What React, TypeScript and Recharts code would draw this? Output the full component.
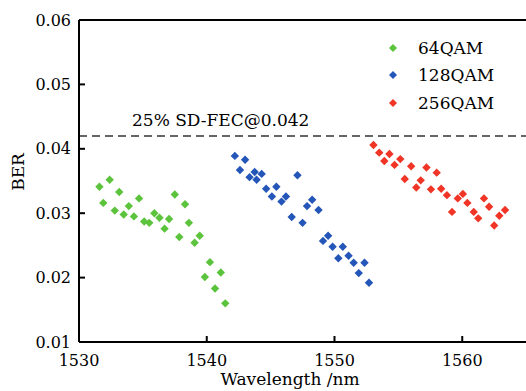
import React from 'react';
import { ScatterChart, Scatter, XAxis, YAxis, ReferenceLine } from 'recharts';

const xTicks = [1530, 1540, 1550, 1560];
const yTicks = [0.01, 0.02, 0.03, 0.04, 0.05, 0.06];
const fecLevel = 0.042;
const fecLabel = '25% SD-FEC@0.042';
const seriesNames = ['64QAM', '128QAM', '256QAM'];
const seriesColors = ['#5cc33c', '#2455b8', '#f03526'];

const qam64X = [1531.6, 1532.4, 1531.9, 1533.15, 1532.8, 1533.9, 1533.5, 1534.7, 1534.3, 1535.1, 1535.5, 1535.9, 1536.3, 1536.7, 1537.05, 1537.5, 1538.3, 1537.85, 1538.6, 1539.45, 1539.05, 1540.25, 1539.85, 1541.1, 1540.65, 1541.45];
const qam64Y = [0.0341, 0.0352, 0.0316, 0.0333, 0.0304, 0.0311, 0.0298, 0.0323, 0.0295, 0.0287, 0.0285, 0.03, 0.0293, 0.0276, 0.0291, 0.0329, 0.0314, 0.0263, 0.0285, 0.0265, 0.0254, 0.0224, 0.0201, 0.0208, 0.0183, 0.016];

const qam128X = [1542.2, 1543.0, 1542.6, 1543.75, 1543.35, 1544.3, 1543.9, 1544.65, 1545.45, 1545.1, 1546.2, 1545.85, 1547.1, 1546.65, 1547.5, 1548.25, 1547.85, 1548.75, 1549.5, 1549.1, 1549.85, 1550.65, 1550.3, 1551.1, 1551.5, 1552.35, 1551.9, 1552.7];
const qam128Y = [0.0389, 0.0383, 0.0367, 0.0364, 0.0356, 0.0361, 0.0352, 0.0338, 0.0341, 0.0326, 0.0326, 0.0318, 0.0359, 0.0294, 0.0285, 0.0321, 0.0311, 0.0305, 0.0265, 0.0257, 0.0248, 0.0248, 0.023, 0.0234, 0.0223, 0.0223, 0.0207, 0.0192];

const qam256X = [1553.05, 1553.5, 1554.3, 1553.9, 1555.15, 1554.7, 1556.0, 1555.5, 1557.2, 1556.75, 1556.4, 1558.0, 1557.55, 1558.35, 1558.8, 1559.65, 1560.05, 1559.2, 1560.4, 1560.9, 1561.25, 1561.7, 1562.1, 1562.5, 1562.9, 1563.35];
const qam256Y = [0.0406, 0.0394, 0.0392, 0.0381, 0.0384, 0.0375, 0.0373, 0.0353, 0.0371, 0.0351, 0.034, 0.0363, 0.0337, 0.0338, 0.0328, 0.0323, 0.033, 0.0302, 0.0316, 0.0302, 0.0292, 0.0323, 0.031, 0.0281, 0.0296, 0.0305];

const toPoints = (xs: number[], ys: number[]) => xs.map((x, i) => ({ x, y: ys[i] }));
const seriesData = [toPoints(qam64X, qam64Y), toPoints(qam128X, qam128Y), toPoints(qam256X, qam256Y)];

const FONT = '"DejaVu Serif", serif';
const INK = '#000';

const Diamond = (props: any) => {
  const { cx, cy, fill } = props;
  const r = 4.2;
  return <polygon points={`${cx},${cy - r} ${cx + r},${cy} ${cx},${cy + r} ${cx - r},${cy}`} fill={fill} />;
};

const YLabel = (props: any) => {
  const { viewBox } = props;
  const x = viewBox.x + 18;
  const y = viewBox.y + viewBox.height / 2 - 9;
  return (
    <text x={x} y={y} transform={`rotate(-90, ${x}, ${y})`} textAnchor="middle" dominantBaseline="central" fontFamily={FONT} fontSize={17} fill={INK}>
      BER
    </text>
  );
};

const XLabel = (props: any) => {
  const { viewBox } = props;
  return (
    <text x={290} y={viewBox.y + 43} textAnchor="middle" fontFamily={FONT} fontSize={17} fill={INK}>
      Wavelength /nm
    </text>
  );
};

const FecLabel = (props: any) => {
  const { viewBox } = props;
  return (
    <text x={viewBox.x + 53} y={viewBox.y - 10} fontFamily={FONT} fontSize={17} fill={INK}>
      {fecLabel}
    </text>
  );
};

const LegendBox = () => (
  <div style={{ position: 'absolute', left: 388, top: 34, fontFamily: FONT, fontSize: 17, color: INK }}>
    {seriesNames.map((n, i) => (
      <div key={n} style={{ display: 'flex', alignItems: 'center', height: 27.5 }}>
        <svg width={10} height={10} style={{ marginRight: 20 }}>
          <polygon points="5,1 9,5 5,9 1,5" fill={seriesColors[i]} />
        </svg>
        <span>{n}</span>
      </div>
    ))}
  </div>
);

export default function App() {
  return (
    <div style={{ position: 'absolute', left: 0, top: 0, width: 526, height: 391, overflow: 'hidden', background: '#fff' }}>
      <ScatterChart width={600} height={391} margin={{ top: 20, right: 10, bottom: 0, left: 0 }}>
        <XAxis
          type="number"
          dataKey="x"
          domain={[1530, 1570]}
          ticks={xTicks}
          tickSize={-6}
          tickMargin={19}
          height={49}
          axisLine={{ stroke: INK, strokeWidth: 2 }}
          tickLine={{ stroke: INK, strokeWidth: 2 }}
          tick={{ fontFamily: FONT, fontSize: 16, fill: INK }}
          label={<XLabel />}
          allowDataOverflow
        />
        <YAxis
          type="number"
          dataKey="y"
          domain={[0.01, 0.06]}
          ticks={yTicks}
          width={79}
          tickSize={-6}
          tickMargin={14}
          tickFormatter={(v: number) => v.toFixed(2)}
          axisLine={{ stroke: INK, strokeWidth: 2 }}
          tickLine={{ stroke: INK, strokeWidth: 2 }}
          tick={{ fontFamily: FONT, fontSize: 16, fill: INK }}
          label={<YLabel />}
          allowDataOverflow
        />
        <ReferenceLine y={0.06} stroke={INK} strokeWidth={2} />
        <ReferenceLine y={fecLevel} stroke="#333" strokeWidth={1.5} strokeDasharray="8 5" label={<FecLabel />} />
        {seriesNames.map((n, i) => (
          <Scatter key={n} name={n} data={seriesData[i]} fill={seriesColors[i]} shape={<Diamond />} isAnimationActive={false} />
        ))}
      </ScatterChart>
      <LegendBox />
    </div>
  );
}
